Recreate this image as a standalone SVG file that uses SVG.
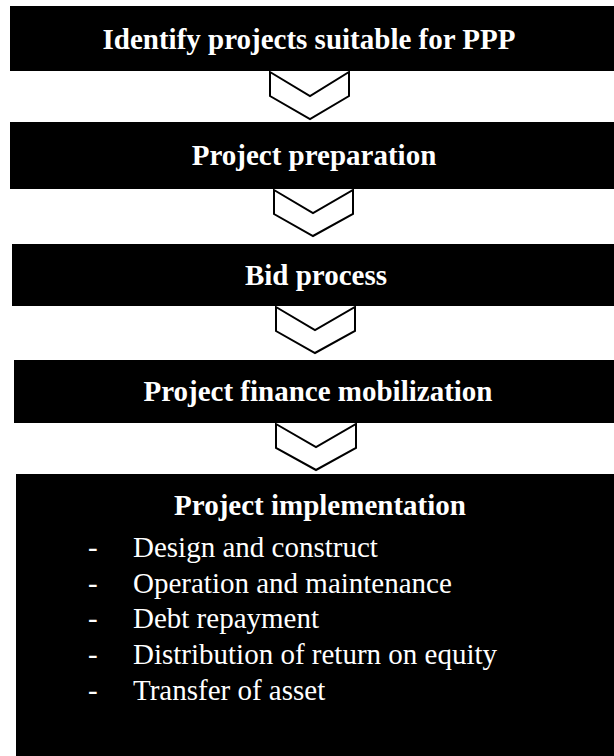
<svg xmlns="http://www.w3.org/2000/svg" width="614" height="756" viewBox="0 0 614 756">
<style>
.box{fill:#000}
.t{font-family:"Liberation Serif","Times New Roman",serif;font-weight:bold;font-size:29px;fill:#fff;text-anchor:middle}
.li{font-family:"Liberation Serif","Times New Roman",serif;font-size:29px;fill:#fff}
.chev{fill:#fff;stroke:#000;stroke-width:2;stroke-linejoin:miter}
</style>
<rect width="614" height="756" fill="#fff"/>
<g id="n1"><rect class="box" x="10" y="6" width="604" height="65"/><text class="t" x="309" y="49">Identify projects suitable for PPP</text></g>
<g id="n2"><rect class="box" x="10" y="122" width="604" height="67"/><text class="t" x="314" y="165">Project preparation</text></g>
<g id="n3"><rect class="box" x="12" y="244" width="602" height="62"/><text class="t" x="316" y="285">Bid process</text></g>
<g id="n4"><rect class="box" x="14" y="360" width="600" height="63"/><text class="t" x="318" y="401">Project finance mobilization</text></g>
<g id="n5"><rect class="box" x="16" y="474" width="598" height="282"/><text class="t" x="320" y="515">Project implementation</text>
<g class="li">
<text x="88" y="557">-</text><text x="133" y="557">Design and construct</text>
<text x="88" y="593">-</text><text x="133" y="593">Operation and maintenance</text>
<text x="88" y="628">-</text><text x="133" y="628">Debt repayment</text>
<text x="88" y="664">-</text><text x="133" y="664">Distribution of return on equity</text>
<text x="88" y="700">-</text><text x="133" y="700">Transfer of asset</text>
</g></g>
<g id="connectors">
<polygon class="chev" points="270,72 310,96 349,72 349,96 310,119 270,96"/>
<polygon class="chev" points="274,190 313,213 353,190 353,214 313,236 274,214"/>
<polygon class="chev" points="276,307 315,330 355,307 355,331 315,353 276,331"/>
<polygon class="chev" points="276,424 316,447 356,424 356,448 316,470 276,448"/>
</g>
</svg>
